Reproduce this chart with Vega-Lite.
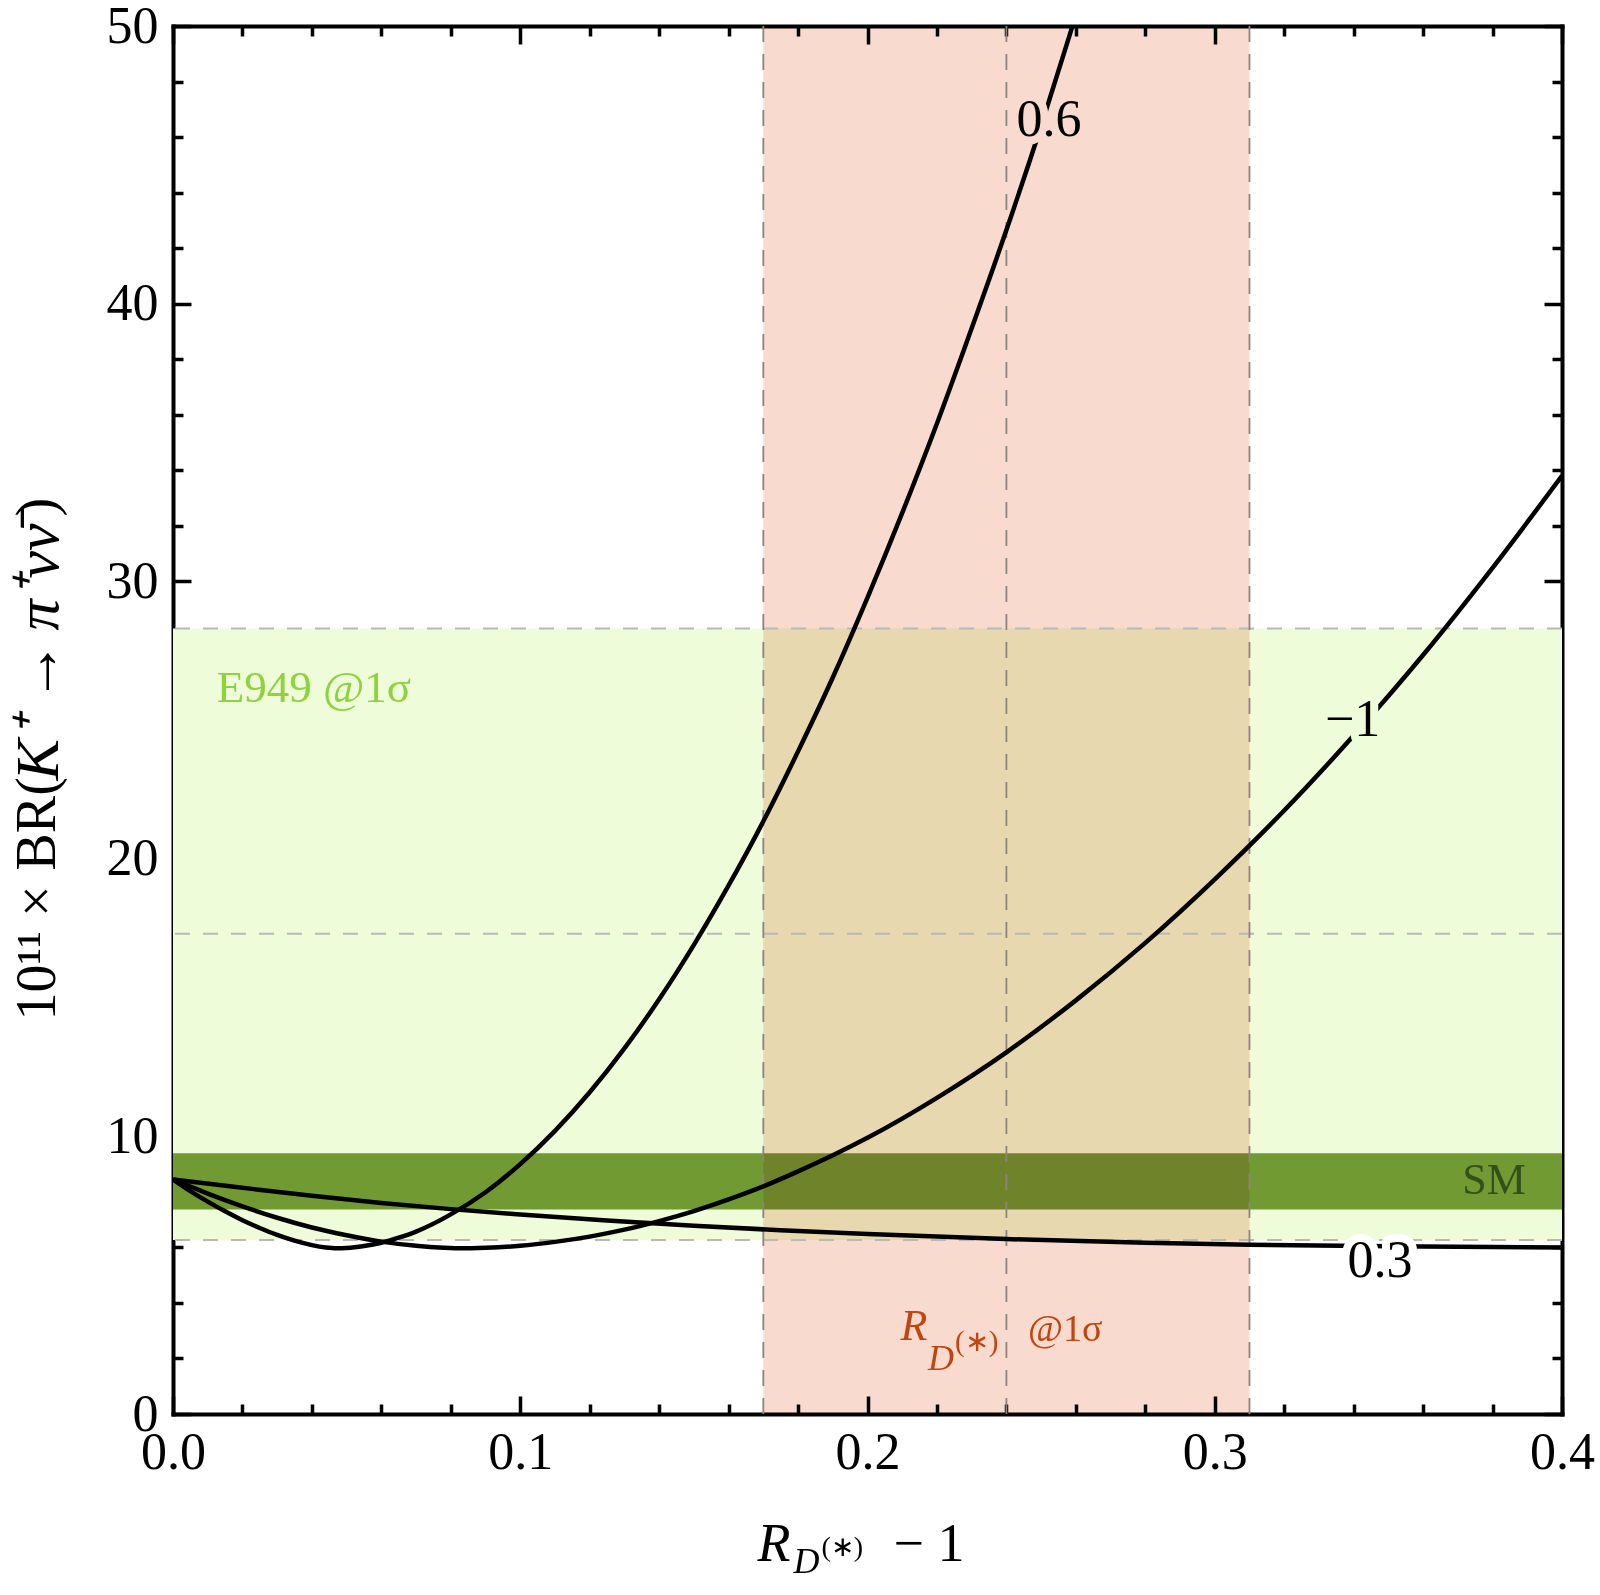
{
  "$schema": "https://vega.github.io/schema/vega-lite/v6.json",
  "width": 1389,
  "height": 1388,
  "autosize": {"type": "none"},
  "padding": {"left": 173, "top": 26, "right": 38, "bottom": 181},
  "background": "white",
  "config": {
    "view": {"stroke": null},
    "axis": {
      "grid": false,
      "domain": false,
      "zindex": 1,
      "labelFont": "Liberation Serif",
      "labelFontSize": 52,
      "labelColor": "black",
      "labelOverlap": false,
      "labelFlush": false,
      "tickColor": "black",
      "tickWidth": 3.5,
      "tickCap": "butt",
      "domainColor": "black",
      "domainWidth": 4,
      "domainCap": "square",
      "titleFont": "Liberation Serif",
      "titleColor": "black",
      "titleFontWeight": "normal",
      "titleAlign": "left",
      "titleBaseline": "alphabetic",
      "titlePadding": 0
    }
  },
  "resolve": {"axis": {"x": "independent", "y": "independent"}},
  "datasets": {
    "curves": [
      {"x": 0.0, "y": 8.45, "c": "0.6"},
      {"x": 0.005, "y": 8.03, "c": "0.6"},
      {"x": 0.01, "y": 7.65, "c": "0.6"},
      {"x": 0.015, "y": 7.3, "c": "0.6"},
      {"x": 0.02, "y": 6.98, "c": "0.6"},
      {"x": 0.025, "y": 6.7, "c": "0.6"},
      {"x": 0.03, "y": 6.45, "c": "0.6"},
      {"x": 0.035, "y": 6.245, "c": "0.6"},
      {"x": 0.04, "y": 6.085, "c": "0.6"},
      {"x": 0.044, "y": 6.0, "c": "0.6"},
      {"x": 0.047, "y": 5.97, "c": "0.6"},
      {"x": 0.05, "y": 5.98, "c": "0.6"},
      {"x": 0.055, "y": 6.05, "c": "0.6"},
      {"x": 0.06, "y": 6.17, "c": "0.6"},
      {"x": 0.065, "y": 6.35, "c": "0.6"},
      {"x": 0.07, "y": 6.57, "c": "0.6"},
      {"x": 0.08, "y": 7.19, "c": "0.6"},
      {"x": 0.09, "y": 7.99, "c": "0.6"},
      {"x": 0.1, "y": 9.0, "c": "0.6"},
      {"x": 0.11, "y": 10.2, "c": "0.6"},
      {"x": 0.12, "y": 11.59, "c": "0.6"},
      {"x": 0.13, "y": 13.17, "c": "0.6"},
      {"x": 0.14, "y": 14.94, "c": "0.6"},
      {"x": 0.15, "y": 16.9, "c": "0.6"},
      {"x": 0.16, "y": 19.04, "c": "0.6"},
      {"x": 0.17, "y": 21.35, "c": "0.6"},
      {"x": 0.18, "y": 23.87, "c": "0.6"},
      {"x": 0.19, "y": 26.53, "c": "0.6"},
      {"x": 0.2, "y": 29.41, "c": "0.6"},
      {"x": 0.21, "y": 32.46, "c": "0.6"},
      {"x": 0.22, "y": 35.68, "c": "0.6"},
      {"x": 0.23, "y": 39.11, "c": "0.6"},
      {"x": 0.24, "y": 42.65, "c": "0.6"},
      {"x": 0.25, "y": 46.4, "c": "0.6"},
      {"x": 0.26, "y": 50.39, "c": "0.6"},
      {"x": 0.265, "y": 52.39, "c": "0.6"},
      {"x": 0.0, "y": 8.45, "c": "-1"},
      {"x": 0.01, "y": 7.94, "c": "-1"},
      {"x": 0.02, "y": 7.48, "c": "-1"},
      {"x": 0.03, "y": 7.07, "c": "-1"},
      {"x": 0.04, "y": 6.72, "c": "-1"},
      {"x": 0.05, "y": 6.44, "c": "-1"},
      {"x": 0.06, "y": 6.21, "c": "-1"},
      {"x": 0.07, "y": 6.06, "c": "-1"},
      {"x": 0.078, "y": 5.99, "c": "-1"},
      {"x": 0.083, "y": 5.97, "c": "-1"},
      {"x": 0.09, "y": 5.99, "c": "-1"},
      {"x": 0.1, "y": 6.06, "c": "-1"},
      {"x": 0.11, "y": 6.2, "c": "-1"},
      {"x": 0.12, "y": 6.39, "c": "-1"},
      {"x": 0.13, "y": 6.64, "c": "-1"},
      {"x": 0.14, "y": 6.95, "c": "-1"},
      {"x": 0.15, "y": 7.31, "c": "-1"},
      {"x": 0.16, "y": 7.73, "c": "-1"},
      {"x": 0.17, "y": 8.2, "c": "-1"},
      {"x": 0.18, "y": 8.74, "c": "-1"},
      {"x": 0.19, "y": 9.32, "c": "-1"},
      {"x": 0.2, "y": 9.95, "c": "-1"},
      {"x": 0.22, "y": 11.39, "c": "-1"},
      {"x": 0.24, "y": 13.03, "c": "-1"},
      {"x": 0.26, "y": 14.9, "c": "-1"},
      {"x": 0.28, "y": 16.97, "c": "-1"},
      {"x": 0.3, "y": 19.26, "c": "-1"},
      {"x": 0.32, "y": 21.74, "c": "-1"},
      {"x": 0.34, "y": 24.44, "c": "-1"},
      {"x": 0.36, "y": 27.34, "c": "-1"},
      {"x": 0.38, "y": 30.48, "c": "-1"},
      {"x": 0.4, "y": 33.8, "c": "-1"},
      {"x": 0.0, "y": 8.45, "c": "0.3"},
      {"x": 0.02, "y": 8.15, "c": "0.3"},
      {"x": 0.04, "y": 7.86, "c": "0.3"},
      {"x": 0.06, "y": 7.6, "c": "0.3"},
      {"x": 0.08, "y": 7.38, "c": "0.3"},
      {"x": 0.1, "y": 7.19, "c": "0.3"},
      {"x": 0.125, "y": 6.97, "c": "0.3"},
      {"x": 0.15, "y": 6.78, "c": "0.3"},
      {"x": 0.175, "y": 6.62, "c": "0.3"},
      {"x": 0.2, "y": 6.48, "c": "0.3"},
      {"x": 0.24, "y": 6.3, "c": "0.3"},
      {"x": 0.28, "y": 6.17, "c": "0.3"},
      {"x": 0.31, "y": 6.1, "c": "0.3"},
      {"x": 0.35, "y": 6.04, "c": "0.3"},
      {"x": 0.4, "y": 6.0, "c": "0.3"}
    ],
    "e949": [{"lo": 6.27, "hi": 28.3}],
    "sm": [{"lo": 7.37, "hi": 9.39}],
    "rd": [{"x": 0.17, "x2": 0.31}],
    "hlines": [{"y": 6.27}, {"y": 17.3}, {"y": 28.3}],
    "vlines": [{"x": 0.17}, {"x": 0.24}, {"x": 0.31}],
    "curveLabels": [
      {"x": 0.2523, "y": 46.6, "t": "0.6"},
      {"x": 0.3397, "y": 25.0, "t": "−1"},
      {"x": 0.3476, "y": 5.51, "t": "0.3"}
    ],
    "smLabel": [{"x": 0.3896, "y": 8.4, "t": "SM"}],
    "e949Label": [{"x": 0.01258, "y": 25.66, "t": "E949 @1σ"}],
    "rdR": [{"x": 0.2095, "y": 2.666, "t": "R"}],
    "rdD": [{"x": 0.2174, "y": 1.585, "t": "D"}],
    "rdStar": [{"x": 0.2252, "y": 2.27, "t": "(∗)"}],
    "rdSigma": [{"x": 0.2462, "y": 2.64, "t": "@1σ"}]
  },
  "layer": [
    {
      "data": {"name": "e949"},
      "mark": {"type": "rect", "color": "#eefcd9"},
      "encoding": {
        "x": {"datum": 0, "type": "quantitative", "scale": {"domain": [0, 0.4], "nice": false, "zero": false}, "axis": null},
        "x2": {"datum": 0.4},
        "y": {"field": "lo", "type": "quantitative", "scale": {"domain": [0, 50], "nice": false, "zero": false}, "axis": null},
        "y2": {"field": "hi"}
      }
    },
    {
      "data": {"name": "sm"},
      "mark": {"type": "rect", "color": "#729a33"},
      "encoding": {
        "x": {"datum": 0, "type": "quantitative", "scale": {"domain": [0, 0.4], "nice": false, "zero": false}, "axis": null},
        "x2": {"datum": 0.4},
        "y": {"field": "lo", "type": "quantitative", "scale": {"domain": [0, 50], "nice": false, "zero": false}, "axis": null},
        "y2": {"field": "hi"}
      }
    },
    {
      "data": {"name": "rd"},
      "mark": {"type": "rect", "color": "#f8dbce", "blend": "multiply"},
      "encoding": {
        "x": {"field": "x", "type": "quantitative", "scale": {"domain": [0, 0.4], "nice": false, "zero": false}, "axis": null},
        "x2": {"field": "x2"},
        "y": {"datum": 0, "type": "quantitative", "scale": {"domain": [0, 50], "nice": false, "zero": false}, "axis": null},
        "y2": {"datum": 50}
      }
    },
    {
      "data": {"name": "hlines"},
      "mark": {"type": "rule", "color": "#b8b8b8", "strokeWidth": 2, "strokeDash": [15, 13]},
      "encoding": {
        "y": {"field": "y", "type": "quantitative", "scale": {"domain": [0, 50], "nice": false, "zero": false}, "axis": null}
      }
    },
    {
      "data": {"name": "vlines"},
      "mark": {"type": "rule", "color": "#8c8480", "strokeWidth": 1.8, "strokeDash": [16, 12]},
      "encoding": {
        "x": {"field": "x", "type": "quantitative", "scale": {"domain": [0, 0.4], "nice": false, "zero": false}, "axis": null}
      }
    },
    {
      "data": {"name": "curves"},
      "mark": {"type": "line", "color": "black", "strokeWidth": 4.5, "interpolate": "monotone", "clip": true, "strokeJoin": "round"},
      "encoding": {
        "x": {"field": "x", "type": "quantitative", "scale": {"domain": [0, 0.4], "nice": false, "zero": false},
          "axis": {"orient": "bottom", "values": [0, 0.1, 0.2, 0.3, 0.4], "format": ".1f", "ticks": false, "domain": true, "labelPadding": 13,
            "title": "R", "titleFontStyle": "italic", "titleFontSize": 54, "titleX": 584, "titleY": 146, "titleAngle": 0}},
        "y": {"field": "y", "type": "quantitative", "scale": {"domain": [0, 50], "nice": false, "zero": false},
          "axis": {"orient": "left", "values": [0, 10, 20, 30, 40, 50], "ticks": false, "domain": true, "labelPadding": 15,
            "title": "10¹¹ ×", "titleFontSize": 56, "titleX": -119, "titleY": 994, "titleAngle": 270}},
        "detail": {"field": "c"}
      }
    },
    {
      "data": {"name": "curveLabels"},
      "mark": {"type": "text", "font": "Liberation Serif", "fontSize": 52, "align": "center", "baseline": "middle", "strokeWidth": 16, "strokeJoin": "round"},
      "encoding": {
        "x": {"field": "x", "type": "quantitative", "scale": {"domain": [0, 0.4], "nice": false, "zero": false},
          "axis": {"orient": "bottom", "values": [0, 0.1, 0.2, 0.3, 0.4], "labels": false, "tickSize": -18,
            "title": "D", "titleFontStyle": "italic", "titleFontSize": 36, "titleX": 620, "titleY": 158, "titleAngle": 0}},
        "y": {"field": "y", "type": "quantitative", "scale": {"domain": [0, 50], "nice": false, "zero": false},
          "axis": {"orient": "left", "values": [0, 10, 20, 30, 40, 50], "labels": false, "tickSize": -18,
            "title": "BR(", "titleFontSize": 56, "titleX": -119, "titleY": 844, "titleAngle": 270}},
        "text": {"field": "t"},
        "fill": {"field": "t", "type": "nominal", "scale": {"domain": ["0.6", "−1", "0.3"], "range": ["#f8dbce", "#eefcd9", "#ffffff"]}, "legend": null},
        "stroke": {"field": "t", "type": "nominal", "scale": {"domain": ["0.6", "−1", "0.3"], "range": ["#f8dbce", "#eefcd9", "#ffffff"]}, "legend": null}
      }
    },
    {
      "data": {"name": "curveLabels"},
      "mark": {"type": "text", "font": "Liberation Serif", "fontSize": 52, "align": "center", "baseline": "middle", "color": "black"},
      "encoding": {
        "x": {"field": "x", "type": "quantitative", "scale": {"domain": [0, 0.4], "nice": false, "zero": false},
          "axis": {"orient": "bottom", "values": [0.02, 0.04, 0.06, 0.08, 0.12, 0.14, 0.16, 0.18, 0.22, 0.24, 0.26, 0.28, 0.32, 0.34, 0.36, 0.38], "labels": false, "tickSize": -10,
            "title": "(∗)", "titleFontSize": 28, "titleX": 648, "titleY": 141, "titleAngle": 0}},
        "y": {"field": "y", "type": "quantitative", "scale": {"domain": [0, 50], "nice": false, "zero": false},
          "axis": {"orient": "left", "values": [2, 4, 6, 8, 12, 14, 16, 18, 22, 24, 26, 28, 32, 34, 36, 38, 42, 44, 46, 48], "labels": false, "tickSize": -10,
            "title": "K⁺  →", "titleFontStyle": "italic", "titleFontSize": 62, "titleX": -116, "titleY": 754, "titleAngle": 270}},
        "text": {"field": "t"}
      }
    },
    {
      "data": {"name": "smLabel"},
      "mark": {"type": "text", "font": "Liberation Serif", "fontSize": 44, "align": "right", "baseline": "middle", "color": "#33501a"},
      "encoding": {
        "x": {"field": "x", "type": "quantitative", "scale": {"domain": [0, 0.4], "nice": false, "zero": false},
          "axis": {"orient": "top", "values": [0, 0.1, 0.2, 0.3, 0.4], "labels": false, "domain": true, "tickSize": -18,
            "title": "− 1", "titleFontSize": 54, "titleX": 720, "titleY": 1534, "titleAngle": 0}},
        "y": {"field": "y", "type": "quantitative", "scale": {"domain": [0, 50], "nice": false, "zero": false},
          "axis": {"orient": "right", "values": [0, 10, 20, 30, 40, 50], "labels": false, "domain": true, "tickSize": -18,
            "title": "π⁺νν̄", "titleFontStyle": "italic", "titleFontSize": 62, "titleX": -1505, "titleY": 604, "titleAngle": 270}},
        "text": {"field": "t"}
      }
    },
    {
      "data": {"name": "e949Label"},
      "mark": {"type": "text", "font": "Liberation Serif", "fontSize": 45, "align": "left", "baseline": "alphabetic", "color": "#8ed23c"},
      "encoding": {
        "x": {"field": "x", "type": "quantitative", "scale": {"domain": [0, 0.4], "nice": false, "zero": false},
          "axis": {"orient": "top", "values": [0.02, 0.04, 0.06, 0.08, 0.12, 0.14, 0.16, 0.18, 0.22, 0.24, 0.26, 0.28, 0.32, 0.34, 0.36, 0.38], "labels": false, "tickSize": -10, "title": null}},
        "y": {"field": "y", "type": "quantitative", "scale": {"domain": [0, 50], "nice": false, "zero": false},
          "axis": {"orient": "right", "values": [2, 4, 6, 8, 12, 14, 16, 18, 22, 24, 26, 28, 32, 34, 36, 38, 42, 44, 46, 48], "labels": false, "tickSize": -10,
            "title": ")", "titleFontSize": 56, "titleX": -1508, "titleY": 490, "titleAngle": 270}},
        "text": {"field": "t"}
      }
    },
    {
      "data": {"name": "rdR"},
      "mark": {"type": "text", "font": "Liberation Serif", "fontSize": 44, "fontStyle": "italic", "align": "left", "baseline": "alphabetic", "color": "#c2450f"},
      "encoding": {
        "x": {"field": "x", "type": "quantitative", "scale": {"domain": [0, 0.4], "nice": false, "zero": false}, "axis": null},
        "y": {"field": "y", "type": "quantitative", "scale": {"domain": [0, 50], "nice": false, "zero": false}, "axis": null},
        "text": {"field": "t"}
      }
    },
    {
      "data": {"name": "rdD"},
      "mark": {"type": "text", "font": "Liberation Serif", "fontSize": 36, "fontStyle": "italic", "align": "left", "baseline": "alphabetic", "color": "#c2450f"},
      "encoding": {
        "x": {"field": "x", "type": "quantitative", "scale": {"domain": [0, 0.4], "nice": false, "zero": false}, "axis": null},
        "y": {"field": "y", "type": "quantitative", "scale": {"domain": [0, 50], "nice": false, "zero": false}, "axis": null},
        "text": {"field": "t"}
      }
    },
    {
      "data": {"name": "rdStar"},
      "mark": {"type": "text", "font": "Liberation Serif", "fontSize": 29, "align": "left", "baseline": "alphabetic", "color": "#c2450f"},
      "encoding": {
        "x": {"field": "x", "type": "quantitative", "scale": {"domain": [0, 0.4], "nice": false, "zero": false}, "axis": null},
        "y": {"field": "y", "type": "quantitative", "scale": {"domain": [0, 50], "nice": false, "zero": false}, "axis": null},
        "text": {"field": "t"}
      }
    },
    {
      "data": {"name": "rdSigma"},
      "mark": {"type": "text", "font": "Liberation Serif", "fontSize": 38, "align": "left", "baseline": "alphabetic", "color": "#c2450f"},
      "encoding": {
        "x": {"field": "x", "type": "quantitative", "scale": {"domain": [0, 0.4], "nice": false, "zero": false}, "axis": null},
        "y": {"field": "y", "type": "quantitative", "scale": {"domain": [0, 50], "nice": false, "zero": false}, "axis": null},
        "text": {"field": "t"}
      }
    }
  ]
}
